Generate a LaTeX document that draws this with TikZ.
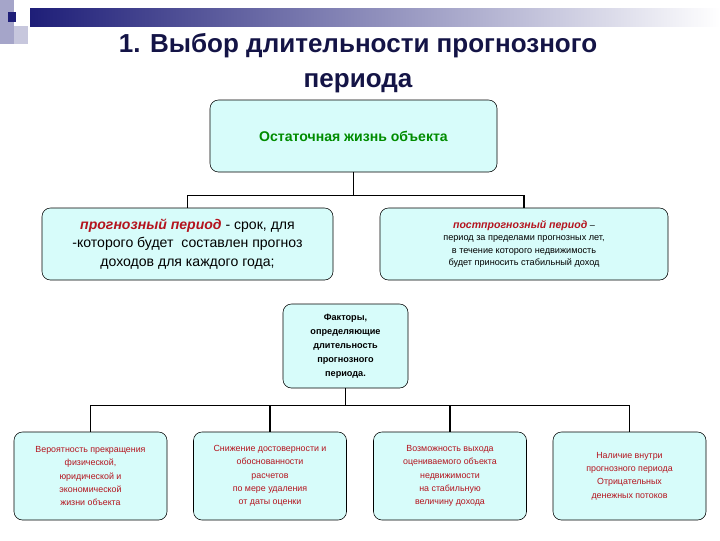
\documentclass[tikz,border=0pt]{standalone}
\usepackage{fontspec}
\setmainfont{Liberation Sans}
\usetikzlibrary{positioning}
\definecolor{boxfill}{RGB}{215,252,250}
\definecolor{darkred}{RGB}{180,20,30}
\definecolor{titleblue}{RGB}{20,20,70}
\definecolor{navy}{RGB}{30,30,120}
\tikzset{
  card/.style={draw, rounded corners=6pt, fill=boxfill, align=center, inner sep=2pt},
  link/.style={line width=1pt}
}
\begin{document}
\begin{tikzpicture}[x=0.025cm, y=-0.025cm]
		
		%Frame
		\useasboundingbox (0,0) rectangle (720,540);
		
		%Header band
		\shade[left color=navy, right color=white] (30,8) rectangle (720,26);
		\fill[navy!40] (0,0) rectangle (14,44);
		\fill[navy!25] (14,26) rectangle (28,44);
		\fill[navy] (8,12) rectangle (16,22);
		
		%Title
		\node (title) at (358,63) [align=center, text=titleblue, font=\fontsize{18.5}{25}\selectfont\bfseries]
		{1. Выбор длительности прогнозного\\периода};
		
		%Top box
		\node (life) at (353.5,136) [card, minimum width=287*0.025cm, minimum height=72*0.025cm,
		text=green!55!black, font=\bfseries\fontsize{10}{12}\selectfont]{Остаточная жизнь объекта};
		
		%Periods
		\node (fore) at (187.5,244) [card, minimum width=291*0.025cm, minimum height=72*0.025cm,
		font=\fontsize{10}{13}\selectfont]
		{\textcolor{darkred}{\bfseries\itshape прогнозный период} - срок, для\\-которого будет\ \ составлен прогноз\\доходов для каждого года;};
		\node (post) at (524,244) [card, minimum width=288*0.025cm, minimum height=72*0.025cm,
		font=\fontsize{6.5}{9}\selectfont]
		{\textcolor{darkred}{\bfseries\itshape\fontsize{7.5}{9}\selectfont постпрогнозный период} –\\период за пределами прогнозных лет,\\в течение которого недвижимость\\будет приносить стабильный доход};
		
		%Factors
		\node (factors) at (345.5,346) [card, minimum width=125*0.025cm, minimum height=84*0.025cm,
		font=\bfseries\fontsize{6.5}{10}\selectfont]
		{Факторы,\\определяющие\\длительность\\прогнозного\\периода.};
		
		%Bottom boxes
		\foreach \name/\cx/\txt in {
		  fA/90.5/{Вероятность прекращения\\физической,\\юридической и\\экономической\\жизни объекта},
		  fB/270/{Снижение достоверности и\\обоснованности\\расчетов\\по мере удаления\\от даты оценки},
		  fC/450/{Возможность выхода\\оцениваемого объекта\\недвижимости\\на стабильную\\величину дохода},
		  fD/629.5/{Наличие внутри\\прогнозного периода\\Отрицательных\\денежных потоков}}
		  \node (\name) at (\cx,476) [card, minimum width=153*0.025cm, minimum height=88*0.025cm,
		  text=darkred, font=\fontsize{6.3}{9.5}\selectfont]{\txt};
		
		%Links
		\draw[link] (life.south) -- ++(0,23) coordinate (j1);
		\draw[link] (fore.north) |- (j1) -| (post.north);
		\draw[link] (factors.south) -- ++(0,17) coordinate (j2);
		\draw[link] (fA.north) |- (j2) -| (fD.north);
		\draw[link] (fB.north) -- (fB.north |- j2);
		\draw[link] (fC.north) -- (fC.north |- j2);
		
		\end{tikzpicture}
\end{document}
